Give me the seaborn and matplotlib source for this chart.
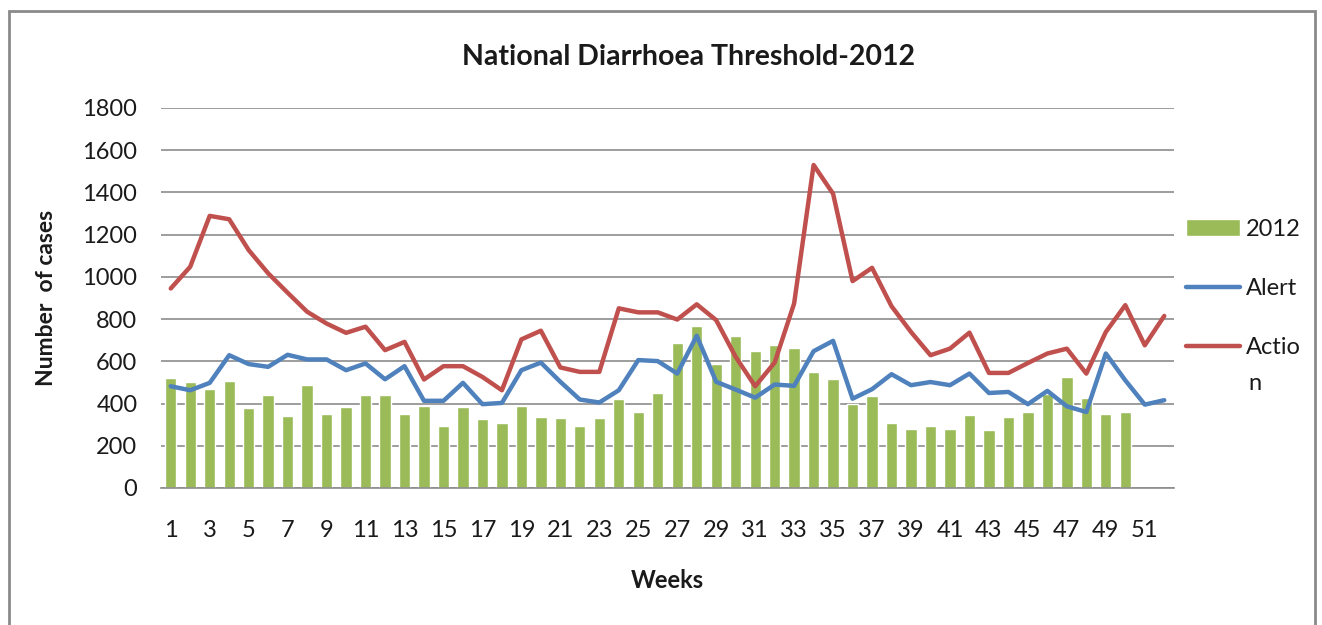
import matplotlib
matplotlib.use("Agg")
import matplotlib.pyplot as plt
import seaborn as sns
import numpy as np
from matplotlib.patches import Rectangle

weeks = list(range(1, 53))
cases_2012 = [520, 500, 470, 505, 380, 440, 343, 488, 349, 386,
              440, 440, 349, 390, 294, 386, 325, 306, 390, 337,
              330, 294, 330, 422, 360, 452, 685, 768, 587, 721,
              647, 677, 664, 550, 514, 400, 435, 308, 281, 294,
              281, 344, 277, 337, 362, 445, 526, 428, 349, 362]
alert = [482, 463, 498, 629, 587, 574, 631, 609, 609, 558,
         590, 515, 577, 413, 413, 498, 397, 403, 558, 594,
         503, 419, 405, 463, 606, 601, 542, 721, 503, 466,
         428, 490, 484, 648, 697, 423, 468, 539, 487, 502,
         487, 542, 450, 455, 397, 460, 387, 360, 637, 510,
         395, 416]
action = [945, 1048, 1289, 1273, 1127, 1017, 925, 835, 779, 735,
          764, 653, 692, 514, 577, 577, 526, 463, 704, 745,
          571, 550, 550, 851, 832, 832, 798, 870, 795, 621,
          482, 594, 874, 1530, 1394, 980, 1043, 861, 739, 629,
          660, 736, 545, 545, 592, 637, 660, 542, 739, 866,
          676, 815]
y_ticks = list(range(0, 1801, 200))
x_ticks = list(range(1, 52, 2))

sns.set_theme(style="white")
plt.rcParams['font.family'] = ['Lato', 'DejaVu Sans']

GREEN = '#9BBB59'
BLUE = '#4F81BD'
RED = '#C0504D'
GRID = '#8C8C8C'
TXT = '#1a1a1a'

fig = plt.figure(figsize=(13.22, 6.25), dpi=100)
ax = fig.add_axes([161/1322, 1-488/625, (1174-161)/1322, 380/625])

sns.barplot(x=weeks[:len(cases_2012)], y=cases_2012, native_scale=True,
            color=GREEN, saturation=1, width=0.58, ax=ax, label='2012')
sns.lineplot(x=weeks, y=alert, color=BLUE, linewidth=3.2, ax=ax, label='Alert')
sns.lineplot(x=weeks, y=action, color=RED, linewidth=3.2, ax=ax, label='Actio')

ax.set_xlim(0.5, 52.5)
ax.set_ylim(0, 1800)
ax.set_yticks(y_ticks)
ax.set_yticklabels([str(v) for v in y_ticks])
ax.set_xticks(x_ticks)
ax.set_xticklabels([str(v) for v in x_ticks])
ax.tick_params(axis='both', length=0, labelsize=17, colors=TXT)
ax.tick_params(axis='y', pad=17)
ax.tick_params(axis='x', pad=23)
ax.yaxis.grid(True, color=GRID, linewidth=1.2)
ax.xaxis.grid(False)
ax.set_axisbelow(True)
for s in ['top', 'right', 'left']:
    ax.spines[s].set_visible(False)
ax.spines['bottom'].set_color(GRID)
ax.spines['bottom'].set_linewidth(1.2)

ax.set_xlabel('Weeks', fontsize=17, fontweight='bold', color=TXT, labelpad=20)
ax.set_ylabel('Number  of cases', fontsize=16.5, fontweight='bold', color=TXT, labelpad=18)
fig.text(688/1322, 1-57/625, 'National Diarrhoea Threshold-2012', fontsize=20.5,
         fontweight='bold', color=TXT, ha='center', va='center')

handles, labels = ax.get_legend_handles_labels()
hmap = dict(zip(labels, handles))
order = ['2012', 'Alert', 'Actio']
leg = ax.legend([hmap[k] for k in order], order, loc='upper left',
                bbox_to_anchor=(1186/1322, 1-219/625), bbox_transform=fig.transFigure,
                frameon=False, fontsize=17, handlelength=2.3, handletextpad=0.25,
                labelspacing=1.62, borderpad=0, borderaxespad=0)
for t in leg.get_texts():
    t.set_color(TXT)
fig.text(1248/1322, 1-383/625, 'n', fontsize=17, color=TXT, ha='left', va='center')

fig.patches.append(Rectangle((9/1322, -0.05), (1315-9)/1322, 1.05-11/625,
                             transform=fig.transFigure, fill=False,
                             edgecolor='#8a8a8a', linewidth=2))

fig.savefig('out.png', dpi=100)
